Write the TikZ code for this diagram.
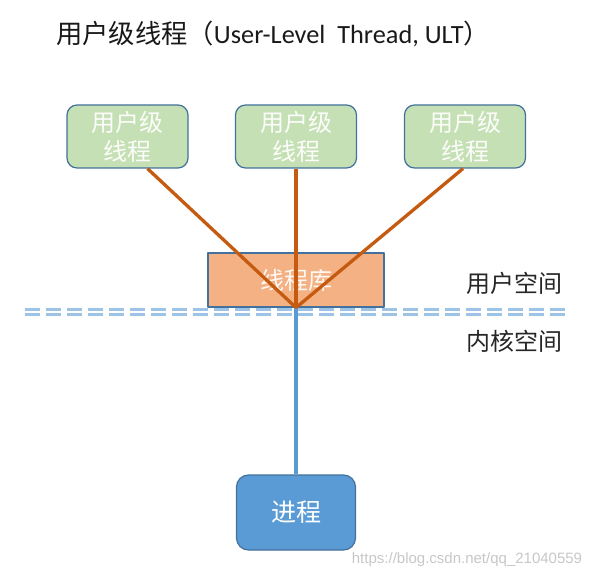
\documentclass[tikz,border=0pt]{standalone}
\usepackage{fontspec}
\setmainfont{Carlito}
\newfontfamily\cjk{Noto Sans CJK SC}
\newfontfamily\webfont{Liberation Sans}
\usetikzlibrary{calc}
\definecolor{thrgreen}{HTML}{C5E0B4}
\definecolor{libor}{HTML}{F4B183}
\definecolor{linkor}{HTML}{C55A11}
\definecolor{procblue}{HTML}{5B9BD5}
\definecolor{edgeblue}{HTML}{41719C}
\definecolor{sepblue}{HTML}{9DC3E6}
\begin{document}
\begin{tikzpicture}[x=1pt, y=-1pt, line join=round,
	thrbox/.style={draw=edgeblue, line width=1.2pt, fill=thrgreen, rounded corners=10pt, minimum width=121pt, minimum height=63pt, align=center, text=white!95!thrgreen, font=\cjk\fontsize{24}{29}\selectfont, inner sep=0pt},
	libbox/.style={draw=edgeblue, line width=1.2pt, fill=libor, minimum width=176pt, minimum height=54pt, text=white!92!libor, font=\cjk\fontsize{24}{29}\selectfont},
	procbox/.style={draw=edgeblue, line width=1.2pt, fill=procblue, rounded corners=12pt, minimum width=119pt, minimum height=75pt, text=white, font=\cjk\fontsize{25}{30}\selectfont},
	ultline/.style={draw=linkor, line width=3.3pt},
	kltline/.style={draw=procblue, line width=3.6pt},
	space/.style={text=black!85, font=\cjk\fontsize{24}{29}\selectfont, inner sep=0pt}]
	\useasboundingbox (0,0) rectangle (598,578);
	% title
	\node[anchor=west, inner sep=0pt, text=black!90, font=\fontsize{26.3}{31}\selectfont] (title) at (56,34) {{\cjk 用户级线程（}User-Level\ \ Thread, ULT{\cjk ）}};
	% user level threads
	\node[thrbox] (u1) at (127.5,136.5) {用户级\\线程};
	\node[thrbox] (u2) at (296,136.5) {用户级\\线程};
	\node[thrbox] (u3) at (465,136.5) {用户级\\线程};
	\node[libbox] (lib) at (296,280) {线程库};
	\node[procbox] (proc) at (296,512.5) {进程};
	% user / kernel separator
	\foreach \y in {309.5,314.5}\draw[sepblue, line width=2.5pt, dash pattern=on 15pt off 6pt] (25,\y)--(570,\y);
	\node[space] (usr) at (514,283) {用户空间};
	\node[space] (krn) at (514,341) {内核空间};
	% links
	\draw[kltline] (lib.south)--(proc.north);
	\draw[ultline] ($(u1.south)+(20,0)$)--(lib.south);
	\draw[ultline] (u2.south)--(lib.south);
	\draw[ultline] ($(u3.south)+(-2,0)$)--(lib.south);
	\node[text=black!22, font=\webfont\fontsize{15}{18}\selectfont, inner sep=0pt] (web) at (467,560) {https://blog.csdn.net/qq\_21040559};
\end{tikzpicture}
\end{document}
